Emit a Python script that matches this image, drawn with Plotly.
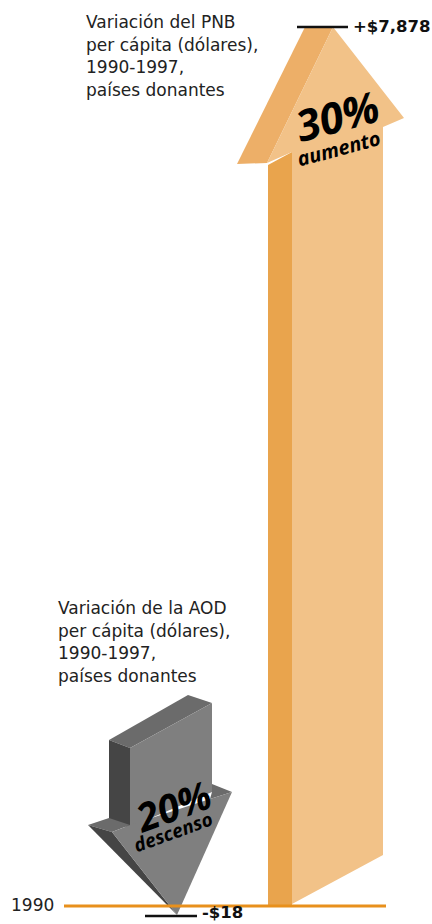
import plotly.graph_objects as go

# ---- data ----
base_year = "1990"
gnp_label_lines = ["Variación del PNB", "per cápita (dólares),", "1990-1997,", "países donantes"]
oda_label_lines = ["Variación de la AOD", "per cápita (dólares),", "1990-1997,", "países donantes"]
gnp_change = 7878      # dollars
oda_change = -18       # dollars
gnp_pct = 30           # percent increase
oda_pct = 20           # percent decrease
gnp_word = "aumento"
oda_word = "descenso"

W, H = 432, 924
FONT = "DejaVu Sans"
BIG_FONT = "Open Sans"

fig = go.Figure()


def poly(pts, color):
    xs = [p[0] for p in pts] + [pts[0][0]]
    ys = [p[1] for p in pts] + [pts[0][1]]
    fig.add_trace(go.Scatter(x=xs, y=ys, mode="lines", fill="toself",
                             fillcolor=color, line=dict(width=0, color=color),
                             hoverinfo="skip", showlegend=False))


# ---- orange (up) arrow: GNP ----
O_FRONT, O_SIDE_HEAD, O_SIDE_SHAFT = "#F2C288", "#EDAF68", "#E9A44D"
baseline_y = 906
poly([(268, 165), (292, 152), (292, baseline_y), (268, baseline_y)], O_SIDE_SHAFT)
poly([(305, 27), (333, 27), (267, 163), (237, 164)], O_SIDE_HEAD)
poly([(333, 27), (404, 118), (383, 127), (383, 855), (292, 904),
      (292, 152), (267, 163)], O_FRONT)

# ---- gray (down) arrow: ODA ----
G_TOP, G_SIDE, G_FRONT = "#6B6B6B", "#454545", "#7F7F7F"
poly([(109, 740), (188, 695), (212, 703), (130, 748)], G_TOP)
poly([(109, 740), (130, 748), (130, 828), (109, 821)], G_SIDE)
poly([(130, 748), (212, 703), (212, 792), (130, 827)], G_FRONT)
poly([(88, 825), (109, 818), (130, 825), (112, 832)], G_TOP)
poly([(212, 784), (232, 792), (210, 799), (212, 792)], G_TOP)
poly([(88, 825), (112, 832), (177, 915)], G_SIDE)
poly([(112, 832), (130, 825), (210, 799), (232, 792), (177, 915)], G_FRONT)

# ---- baseline and value markers ----
fig.add_shape(type="line", x0=64, x1=386, y0=baseline_y, y1=baseline_y,
              line=dict(color="#E8901C", width=3))
fig.add_shape(type="line", x0=297, x1=348, y0=27, y1=27,
              line=dict(color="#111111", width=2.5))
fig.add_shape(type="line", x0=145, x1=197, y0=916, y1=916,
              line=dict(color="#111111", width=2.5))

ann = []
ann.append(dict(x=351, y=26, text=f"<b>+${gnp_change:,}</b>", xanchor="left",
                yanchor="middle", font=dict(size=16.5, color="#111111")))
ann.append(dict(x=200, y=912, text=f"<b>-${abs(oda_change):,}</b>", xanchor="left",
                yanchor="middle", font=dict(size=16.5, color="#111111")))
ann.append(dict(x=9, y=905, text=base_year, xanchor="left", yanchor="middle",
                font=dict(size=17, color="#222222")))

for i, line in enumerate(gnp_label_lines):
    ann.append(dict(x=84, y=22 + i * 22.7, text=line, xanchor="left", yanchor="middle",
                    font=dict(size=17, color="#222222")))
for i, line in enumerate(oda_label_lines):
    ann.append(dict(x=56, y=608 + i * 22.5, text=line, xanchor="left", yanchor="middle",
                    font=dict(size=17, color="#222222")))

ann.append(dict(x=337, y=115, text=f"<b><i>{gnp_pct}%</i></b>", textangle=-15,
                xanchor="center", yanchor="middle",
                font=dict(size=43, color="#000000", family=BIG_FONT)))
ann.append(dict(x=338, y=148, text=f"<b><i>{gnp_word}</i></b>", textangle=-15,
                xanchor="center", yanchor="middle",
                font=dict(size=20, color="#000000", family=BIG_FONT)))
ann.append(dict(x=172, y=805, text=f"<b><i>{oda_pct}%</i></b>", textangle=-20,
                xanchor="center", yanchor="middle",
                font=dict(size=39, color="#000000", family=BIG_FONT)))
ann.append(dict(x=173, y=832, text=f"<b><i>{oda_word}</i></b>", textangle=-20,
                xanchor="center", yanchor="middle",
                font=dict(size=19, color="#000000", family=BIG_FONT)))

for a in ann:
    a.update(xref="x", yref="y", showarrow=False)

fig.update_layout(
    width=W, height=H, margin=dict(l=0, r=0, t=0, b=0),
    paper_bgcolor="white", plot_bgcolor="white",
    font=dict(family=FONT),
    xaxis=dict(range=[0, W], visible=False, fixedrange=True),
    yaxis=dict(range=[H, 0], visible=False, fixedrange=True),
    annotations=ann, showlegend=False,
)
fig.write_html("out.html", config={"displayModeBar": False},
               post_script="document.body.style.margin='0';document.body.style.overflow='hidden';")
